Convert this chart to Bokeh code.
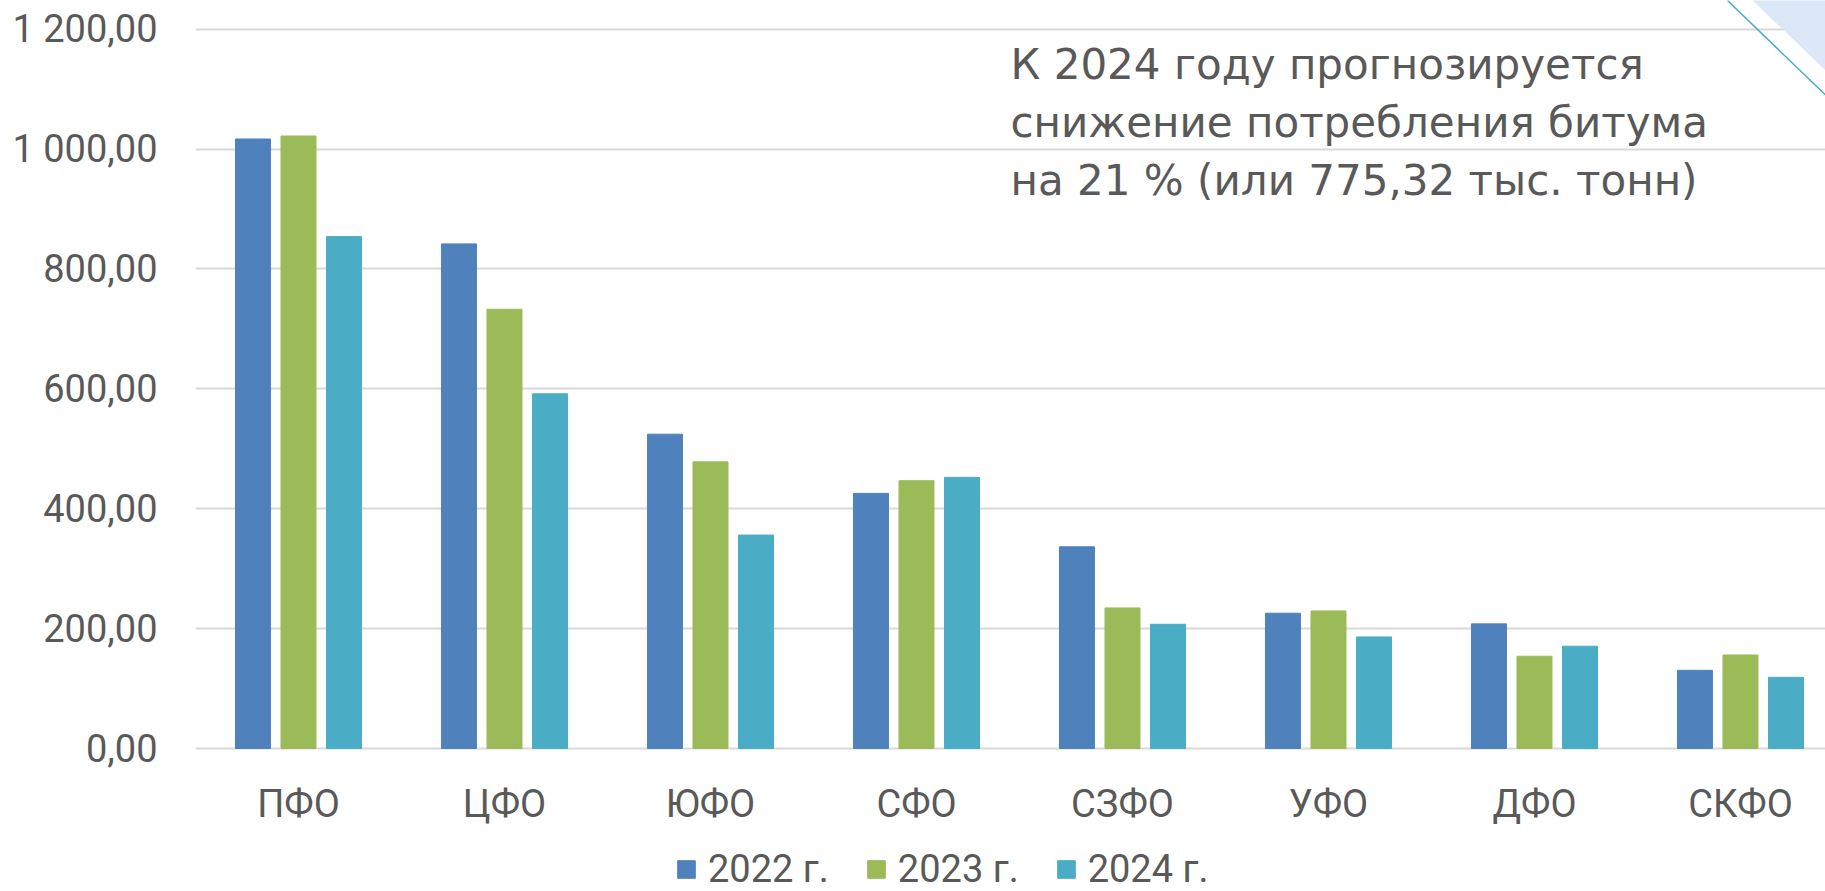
from bokeh.plotting import figure
from bokeh.models import Range1d, FixedTicker, Legend, LegendItem, Label, ColumnDataSource
from bokeh.transform import dodge
from bokeh.core.properties import value
from bokeh.embed import file_html
from bokeh.resources import INLINE

# ---- data ----
categories = ["ПФО", "ЦФО", "ЮФО", "СФО", "СЗФО", "УФО", "ДФО", "СКФО"]
series_names = ["2022 г.", "2023 г.", "2024 г."]
v2022 = [1016.7, 841.7, 524.3, 425.6, 336.5, 225.7, 207.9, 130.4]
v2023 = [1021.7, 732.7, 478.2, 446.7, 234.5, 229.5, 153.9, 156.0]
v2024 = [853.9, 591.7, 356.0, 452.3, 207.2, 186.1, 170.6, 118.7]
y_ticks = [0, 200, 400, 600, 800, 1000, 1200]
y_tick_labels = ["0,00", "200,00", "400,00", "600,00", "800,00", "1 000,00", "1 200,00"]
note_lines = ["К 2024 году прогнозируется",
              "снижение потребления битума",
              "на 21 % (или 775,32 тыс. тонн)"]

# ---- styles / layout ----
colors = ["#4f81bd", "#9bbb59", "#4bacc6"]
text_color = "#595959"
W, H = 1825, 891
LEFT = 195
ZERO_PX = 748            # page y of the value 0
PX_PER_CAT = 206.0
PX_PER_UNIT = 0.5995
FRAME_W = W - LEFT

x_start = -0.5
x_end = x_start + FRAME_W / PX_PER_CAT
y_start = -(H - ZERO_PX) / PX_PER_UNIT
y_end = ZERO_PX / PX_PER_UNIT

p = figure(width=W, height=H, output_backend="svg", toolbar_location=None,
           x_range=Range1d(x_start, x_end), y_range=Range1d(y_start, y_end),
           x_axis_location=None,
           min_border_left=LEFT, min_border_right=0, min_border_top=0,
           min_border_bottom=0)
p.outline_line_color = None
p.background_fill_color = "white"
p.border_fill_color = "white"

# helpers: page pixel -> data coordinates (only for decoration / text placement)
def dx(px):
    return x_start + (px - LEFT) / PX_PER_CAT

def dy(py):
    return (ZERO_PX - py) / PX_PER_UNIT

xs = list(range(len(categories)))
src = ColumnDataSource(dict(x=xs, cat=categories, v2022=v2022, v2023=v2023, v2024=v2024))

bar_w = 0.17
offsets = [-0.221, 0.0, 0.221]
renderers = []
for name, col, off, c in zip(series_names, ["v2022", "v2023", "v2024"], offsets, colors):
    r = p.vbar(x=dodge("x", off), top=col, width=bar_w, source=src,
               fill_color=c, line_color=c, line_width=1)
    renderers.append(r)

# category labels (drawn as text under the zero line)
p.text(x="x", y=dy(803), text="cat", source=src,
       text_font=value("Roboto"), text_font_size="38px", text_color=text_color,
       text_align="center", text_baseline="middle")

# y axis
p.yaxis.ticker = FixedTicker(ticks=y_ticks)
p.yaxis.major_label_overrides = {t: l for t, l in zip(y_ticks, y_tick_labels)}
p.yaxis.major_label_text_font = "Roboto"
p.yaxis.major_label_text_font_size = "38px"
p.yaxis.major_label_text_color = text_color
p.yaxis.major_tick_line_color = None
p.yaxis.minor_tick_line_color = None
p.yaxis.axis_line_color = None
p.yaxis.major_label_standoff = 32

p.xgrid.grid_line_color = None
p.ygrid.grid_line_color = "#d9d9d9"
p.ygrid.grid_line_width = 2

# slide ornament in the top-right corner
p.patch([dx(1750), dx(1840), dx(1840)], [dy(-2), dy(-2), dy(84)],
        fill_color="#dce7f7", line_color=None)
p.line([dx(1727), dx(1840)], [dy(0), dy(109)], line_color="#4bacc6", line_width=1.5)

# note text
for i, t in enumerate(note_lines):
    p.add_layout(Label(x=dx(1010), y=dy(64 + 58 * i), text=t,
                       text_font="DejaVu Sans", text_font_size="42px",
                       text_color=text_color, text_baseline="middle",
                       text_align="left"))

# legend (inside the frame, below the category labels)
legend = Legend(items=[LegendItem(label=n, renderers=[r]) for n, r in zip(series_names, renderers)],
                orientation="horizontal", location=(480, 0),
                padding=0, margin=0, spacing=36, label_standoff=11,
                glyph_width=22, glyph_height=22,
                label_text_font="Roboto", label_text_font_size="38px",
                label_text_color=text_color,
                border_line_color=None, background_fill_alpha=0)
p.add_layout(legend, "center")

open("out.html", "w").write(file_html(p, INLINE))
